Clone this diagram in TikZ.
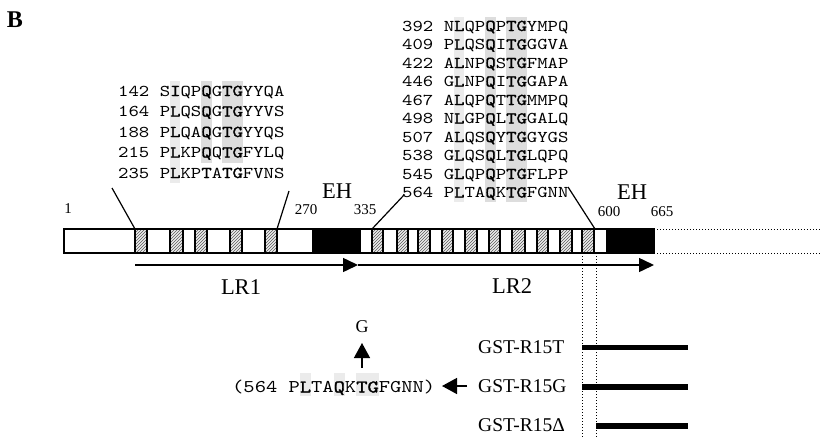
\documentclass[tikz,border=0pt]{standalone}
\usepackage{fontspec}
\setmainfont{Liberation Serif}
\newfontfamily\seqfont{lmmono10-regular.otf}[FakeStretch=1.2]
\newfontfamily\seqfontb{lmmono10-regular.otf}[FakeStretch=1.2,FakeBold=1.5]
\usetikzlibrary{arrows.meta,patterns}
\newcommand\bx[1]{{\seqfontb #1}}
\newcommand\sq[8]{#1#2\bx{#3}#4\bx{#5}#6\bx{#7}#8}
\begin{document}
\begin{tikzpicture}[x=1pt,y=-1pt,
  seqrow/.style={inner sep=0pt, anchor=base west, font=\seqfont\fontsize{16.5}{18}\selectfont},
  seqbig/.style={inner sep=0pt, anchor=base west, font=\seqfont\fontsize{17.9}{20}\selectfont},
  biglbl/.style={inner sep=0pt, font=\fontsize{22.5}{26}\selectfont},
  numlbl/.style={inner sep=0pt, font=\fontsize{15}{17}\selectfont},
  gstlbl/.style={inner sep=0pt, anchor=west, font=\fontsize{19.5}{22}\selectfont},
  conn/.style={line width=1.2pt},
  shadeA/.style={fill=gray!16},
  shadeB/.style={fill=gray!27},
  lrarrow/.style={line width=1.5pt, -{Triangle[length=15pt,width=14pt]}},
  smallarrow/.style={line width=1.4pt, -{Triangle[length=15pt,width=16pt]}},
  dots/.style={dotted, line width=1pt},
  gstbar/.style={line width=5.5pt}
]
\useasboundingbox (0,0) rectangle (822,437);

% panel letter
\node[inner sep=0pt, font=\bfseries\fontsize{24}{26}\selectfont] (B) at (15,20) {B};

% ---------- shading behind left sequence block ----------
\fill[shadeA] (170,81) rectangle (180.4,183);
\fill[shadeB] (201.2,81) rectangle (211.6,163);
\fill[shadeB] (222,81) rectangle (242.8,163);
% ---------- shading behind right sequence block ----------
\fill[shadeA] (454,17) rectangle (464.4,202);
\fill[shadeB] (485.2,17) rectangle (495.6,202);
\fill[shadeB] (506,17) rectangle (526.8,202);

% left sequence block
\node[seqrow] (s142) at (118,96)    {\sq{142 }{S}{I}{QP}{Q}{G}{TG}{YYQA}};
\node[seqrow] (s164) at (118,116.5) {\sq{164 }{P}{L}{QS}{Q}{G}{TG}{YYVS}};
\node[seqrow] (s188) at (118,137)   {\sq{188 }{P}{L}{QA}{Q}{G}{TG}{YYQS}};
\node[seqrow] (s215) at (118,157.5) {\sq{215 }{P}{L}{KP}{Q}{Q}{TG}{FYLQ}};
\node[seqrow] (s235) at (118,178)   {\sq{235 }{P}{L}{KP}{T}{A}{TG}{FVNS}};

% right sequence block
\node[seqrow] (s392) at (402,31)    {\sq{392 }{N}{L}{QP}{Q}{P}{TG}{YMPQ}};
\node[seqrow] (s409) at (402,49.5)  {\sq{409 }{P}{L}{QS}{Q}{I}{TG}{GGVA}};
\node[seqrow] (s422) at (402,68)    {\sq{422 }{A}{L}{NP}{Q}{S}{TG}{FMAP}};
\node[seqrow] (s446) at (402,86.5)  {\sq{446 }{G}{L}{NP}{Q}{I}{TG}{GAPA}};
\node[seqrow] (s467) at (402,105)   {\sq{467 }{A}{L}{QP}{Q}{T}{TG}{MMPQ}};
\node[seqrow] (s498) at (402,123.5) {\sq{498 }{N}{L}{GP}{Q}{L}{TG}{GALQ}};
\node[seqrow] (s507) at (402,142)   {\sq{507 }{A}{L}{QS}{Q}{Y}{TG}{GYGS}};
\node[seqrow] (s538) at (402,160.5) {\sq{538 }{G}{L}{QS}{Q}{L}{TG}{LQPQ}};
\node[seqrow] (s545) at (402,179)   {\sq{545 }{G}{L}{QP}{Q}{P}{TG}{FLPP}};
\node[seqrow] (s564) at (402,197.5) {\sq{564 }{P}{L}{TA}{Q}{K}{TG}{FGNN}};

% labels above bar
\node[biglbl] (eh1) at (337,191) {EH};
\node[biglbl] (eh2) at (632,192) {EH};
\node[numlbl] (n1) at (68,209) {1};
\node[numlbl] (n270) at (306,210) {270};
\node[numlbl] (n335) at (365,210) {335};
\node[numlbl] (n600) at (609,212) {600};
\node[numlbl] (n665) at (662,212) {665};

% ---------- protein bar ----------
\fill[white] (64,229) rectangle (654,253);
\foreach \a/\b in {135/147,170/183,195/207,230/242,265/277,
                   372/383,397/408,418/430,442/453,465/477,489/500,512/525,537/548,560/572,582/594}{
  \fill[gray!14] (\a,229) rectangle (\b,253);
  \fill[pattern=north east lines, pattern color=gray!70!black] (\a,229) rectangle (\b,253);
  \draw[line width=1.3pt] (\a,229) -- (\a,253) (\b,229) -- (\b,253);
}
\fill[black] (312,229) rectangle (361,253);
\fill[black] (606,229) rectangle (654,253);
\draw[line width=1.3pt] (64,229) rectangle (654,253);
\draw[dots] (654,229) -- (822,229) (654,253) -- (822,253);

% connectors from sequence blocks to bar
\coordinate (la1) at (112,188); \coordinate (lb1) at (135,229);
\coordinate (la2) at (289,191); \coordinate (lb2) at (277,229);
\coordinate (ra1) at (404,195); \coordinate (rb1) at (372,229);
\coordinate (ra2) at (568,187); \coordinate (rb2) at (595,229);
\draw[conn] (la1) -- (lb1);
\draw[conn] (la2) -- (lb2);
\draw[conn] (ra1) -- (rb1);
\draw[conn] (ra2) -- (rb2);

% LR arrows
\coordinate (lr1s) at (135,265); \coordinate (lr1e) at (358,265); \coordinate (lr2e) at (654,265);
\draw[lrarrow] (lr1s) -- (lr1e);
\draw[lrarrow] (lr1e) -- (lr2e);
\node[biglbl] (lr1) at (241,287) {LR1};
\node[biglbl] (lr2) at (512,286) {LR2};

% vertical dotted guides
\coordinate (v1t) at (582,253); \coordinate (v1b) at (582,437);
\coordinate (v2t) at (596,253); \coordinate (v2b) at (596,437);
\draw[dots] (v1t) -- (v1b);
\draw[dots] (v2t) -- (v2b);

% mutant sequence
\fill[shadeA] (299.8,373) rectangle (311.1,396);
\fill[shadeA] (333.7,373) rectangle (345,396);
\fill[shadeA] (356.3,373) rectangle (378.9,396);
\node[seqbig] (mut) at (232,392.5) {\sq{(564 }{P}{L}{TA}{Q}{K}{TG}{FGNN)}};
\node[inner sep=0pt, font=\fontsize{18}{20}\selectfont] (glab) at (362,327) {G};
\coordinate (ga) at (362,368); \coordinate (gb) at (362,343);
\draw[smallarrow] (ga) -- (gb);

% GST constructs
\node[gstlbl] (gT) at (478,347) {GST-R15T};
\node[gstlbl] (gG) at (478,386) {GST-R15G};
\node[gstlbl] (gD) at (478,425) {GST-R15Δ};
\coordinate (ma) at (467,386); \coordinate (mb) at (442,386);
\draw[smallarrow] (ma) -- (mb);
\coordinate (bT0) at (582,347.5); \coordinate (bT1) at (688,347.5);
\coordinate (bG0) at (582,387);   \coordinate (bG1) at (688,387);
\coordinate (bD0) at (596,426);   \coordinate (bD1) at (688,426);
\draw[gstbar] (bT0) -- (bT1);
\draw[gstbar] (bG0) -- (bG1);
\draw[gstbar] (bD0) -- (bD1);
\end{tikzpicture}
\end{document}
